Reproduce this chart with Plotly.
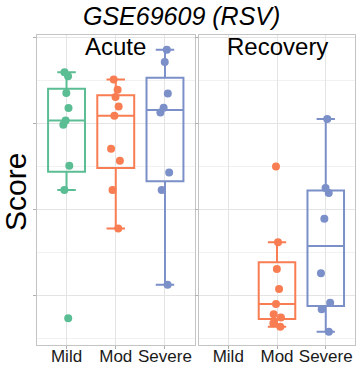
import plotly.graph_objects as go

# ---- data (score units; axis tick labels are hidden in the original) ----
groups = ["Mild", "Mod", "Severe"]
phases = ["Acute", "Recovery"]

acute_mild = [2.597, 2.550, 2.357, 2.183, 2.038, 1.988, 1.512, 1.229, -0.259]
acute_mod = [2.512, 2.395, 2.310, 2.201, 2.093, 1.709, 1.570, 1.229, 0.783]
acute_severe = [2.860, 2.717, 2.352, 2.186, 2.131, 1.434, 1.229, 0.131]
recovery_mild = []
recovery_mod = [1.503, 0.624, 0.314, 0.081, -0.093, -0.213, -0.252, -0.317, -0.357]
recovery_severe = [2.055, 1.252, 1.194, 0.895, 0.264, -0.078, -0.155, -0.415]

colors = {"Mild": "#5bbd93", "Mod": "#f97d52", "Severe": "#7b8fc8"}

panel_data = {
    "Acute": {"Mild": acute_mild, "Mod": acute_mod, "Severe": acute_severe},
    "Recovery": {"Mild": recovery_mild, "Mod": recovery_mod, "Severe": recovery_severe},
}

FONT = "Liberation Sans, Arial, Helvetica, sans-serif"
W, H = 358, 365
L, R, T, B = 37, 3, 35, 20
pw = W - L - R
ph = H - T - B

fig = go.Figure()
axes = [("x", "y"), ("x2", "y2")]
for (xa, ya), phase in zip(axes, phases):
    for gi, g in enumerate(groups):
        vals = panel_data[phase][g]
        if not vals:
            continue
        fig.add_trace(go.Box(
            x=[gi] * len(vals), y=vals, xaxis=xa, yaxis=ya,
            width=0.75, boxpoints="all", jitter=0.35, pointpos=0,
            quartilemethod="linear",
            line=dict(color=colors[g], width=2),
            fillcolor="rgba(255,255,255,0)",
            marker=dict(color=colors[g], size=8, opacity=1),
            showlegend=False, hoverinfo="y",
        ))

grid_major = "#e4e4e4"
grid_minor = "#f1f1f1"
border = "#c4c4c4"

split_left = (194.5 - L) / pw
split_right = (199 - L) / pw

xcommon = dict(
    range=[-0.6, 2.6], tickmode="array", tickvals=[0, 1, 2], ticktext=groups,
    showgrid=True, gridcolor=grid_major, gridwidth=1, zeroline=False,
    showline=True, mirror=True, linecolor=border, linewidth=1, automargin=False,
    ticks="outside", ticklen=3, tickcolor="#b0b0b0", ticklabelstandoff=-7,
    tickfont=dict(family=FONT, size=17, color="#1a1a1a"),
)
ycommon = dict(
    range=[-0.57, 3.03], tickmode="linear", tick0=0, dtick=1, automargin=False,
    showticklabels=False, showgrid=True, gridcolor=grid_major, gridwidth=1,
    zeroline=False, showline=True, mirror=True, linecolor=border, linewidth=1,
    ticks="outside", ticklen=3, tickcolor="#b0b0b0",
    minor=dict(dtick=0.5, showgrid=True, gridcolor=grid_minor, gridwidth=1, ticks=""),
)

fig.update_layout(
    width=W, height=H,
    margin=dict(l=L, r=R, t=T, b=B, autoexpand=False),
    paper_bgcolor="white", plot_bgcolor="white",
    xaxis=dict(domain=[0, split_left], **xcommon),
    xaxis2=dict(domain=[split_right, 1], anchor="y2", **xcommon),
    yaxis=dict(domain=[0, 1], anchor="x", **ycommon),
    yaxis2=dict(domain=[0, 1], anchor="x2", matches="y", **ycommon),
    font=dict(family=FONT, color="#000000"),
    showlegend=False,
)

# Title
fig.add_annotation(
    text="<i>GSE69609 (RSV)</i>", xref="paper", yref="paper",
    x=(181 - L) / pw, y=1 + (T - 16) / ph, xanchor="center", yanchor="middle",
    showarrow=False, font=dict(family=FONT, size=25, color="#000000"),
)
# Facet labels
for phase, xc in zip(phases, [(L + 194.5) / 2, (199 + W - R) / 2]):
    fig.add_annotation(
        text=phase, xref="paper", yref="paper",
        x=(xc - L) / pw, y=1 - (46.5 - T) / ph, xanchor="center", yanchor="middle",
        showarrow=False, font=dict(family=FONT, size=24, color="#000000"),
    )
# Y-axis title
fig.add_annotation(
    text="Score", xref="paper", yref="paper",
    x=(15 - L) / pw, y=(H - B - 192) / ph, xanchor="center", yanchor="middle",
    textangle=-90, showarrow=False, font=dict(family=FONT, size=30, color="#000000"),
)

fig.write_html(
    "out.html",
    config={"displayModeBar": False},
    post_script="document.body.style.margin='0px';document.body.style.overflow='hidden';",
)
